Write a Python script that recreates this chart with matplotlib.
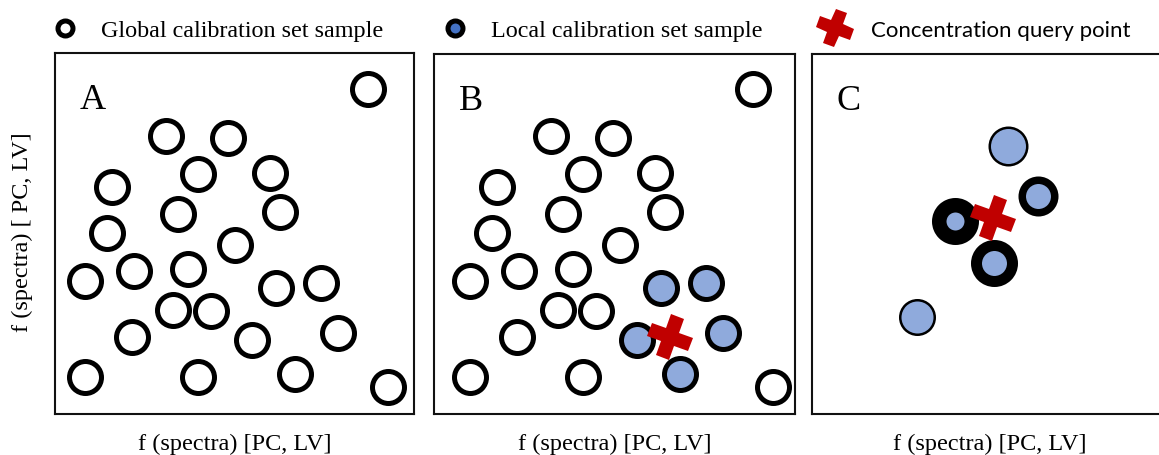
"""
Global vs local calibration set sketch (panels A, B, C) in a shared
score space f(spectra) [PC, LV].
"""
import matplotlib
matplotlib.use("Agg")
import matplotlib.pyplot as plt
from matplotlib.lines import Line2D
from matplotlib.markers import MarkerStyle
from matplotlib.transforms import Affine2D

# score coordinates of the global calibration set (panels A and B)
global_x = [313, 111, 173, 143, 215, 57, 123, 225, 52, 180, 30, 79,
            133, 221, 266, 118, 156, 77, 197, 283, 30, 143, 240, 333]
global_y = [325, 278, 276, 240, 241, 227, 200, 202, 181, 169, 133, 143,
            145, 126, 131, 104, 103, 77, 74, 81, 37, 37, 40, 27]
# indices of the samples picked as the local calibration set in B
local_idx = [13, 14, 18, 19, 22]
query_b = (230, 77)

# panel C: zoomed neighbourhood, ring width = sample weight
c_x = [196, 226, 143, 182, 105]
c_y = [268, 218, 193, 151, 97]
c_radius = [17.5, 12.5, 9, 12.5, 16]
c_weight = [2.5, 7.5, 14.5, 11, 2.5]
query_c = (181, 196)

labels = ["Global calibration set sample", "Local calibration set sample",
          "Concentration query point"]
panel_letters = ["A", "B", "C"]
axis_label = "f (spectra) [PC, LV]"
y_label = "f (spectra) [ PC, LV]"

SERIF = "Liberation Serif"
SANS = "Lato"
RED = "#C00000"
BLUE_LIGHT = "#8FAADC"
BLUE_DARK = "#4472C4"
PX = 0.72  # points per pixel at dpi 100

W, H = 1159, 455
fig = plt.figure(figsize=(W / 100, H / 100), dpi=100)


def px_axes(left, top, right, bottom):
    return fig.add_axes([left / W, (H - bottom) / H, (right - left) / W, (bottom - top) / H])


cross = MarkerStyle("P", transform=Affine2D().rotate_deg(-20))

ax_a = px_axes(55, 53, 414, 414)
ax_b = px_axes(434, 54, 795, 414)
ax_c = px_axes(812, 54, 1159, 414)
ax_a.set_xlim(0, 359)
ax_a.set_ylim(0, 361)
ax_b.set_xlim(-6, 355)
ax_b.set_ylim(0, 360)
ax_c.set_xlim(0, 347)
ax_c.set_ylim(0, 360)

ring = dict(marker="o", markersize=32 * PX, markeredgewidth=5 * PX,
            markeredgecolor="black", linestyle="none")

# A: all global samples
ax_a.plot(global_x, global_y, markerfacecolor="white", **ring)

# B: global samples with local set highlighted + query point
gx = [x for i, x in enumerate(global_x) if i not in local_idx]
gy = [y for i, y in enumerate(global_y) if i not in local_idx]
ax_b.plot(gx, gy, markerfacecolor="white", **ring)
ax_b.plot([global_x[i] for i in local_idx], [global_y[i] for i in local_idx],
          markerfacecolor=BLUE_LIGHT, **ring)
ax_b.plot([query_b[0]], [query_b[1]], marker=cross, markersize=43 * PX,
          color=RED, markeredgewidth=0, linestyle="none", zorder=5)

# C: weighted neighbours
for x, y, r, w in zip(c_x, c_y, c_radius, c_weight):
    ax_c.plot([x], [y], marker="o", markersize=(2 * r + w) * PX,
              markeredgewidth=w * PX, markerfacecolor=BLUE_LIGHT,
              markeredgecolor="black", linestyle="none")
ax_c.plot([query_c[0]], [query_c[1]], marker=cross, markersize=43 * PX,
          color=RED, markeredgewidth=0, linestyle="none", zorder=5)

for ax, letter in zip([ax_a, ax_b, ax_c], panel_letters):
    ax.set_xticks([])
    ax.set_yticks([])
    for sp in ax.spines.values():
        sp.set_linewidth(1.5)
        sp.set_color("#111111")
    ax.annotate(letter, xy=(0, 1), xycoords="axes fraction", xytext=(25, -56),
                textcoords="offset pixels", fontsize=26, family=SERIF,
                ha="left", va="baseline")
    ax.set_xlabel(axis_label, fontsize=17.5, family=SERIF)
    ax.xaxis.set_label_coords(0.5, -0.055)
ax_c.spines["right"].set_visible(False)
ax_c.xaxis.set_label_coords((990 - 812) / 347, -0.055)
fig.text(22 / W, (H - 232) / H, y_label, rotation=90, fontsize=17.5,
         family=SERIF, ha="center", va="center")

# legend row
handles = [
    Line2D([], [], marker="o", markersize=15 * PX, markeredgewidth=5 * PX,
           markerfacecolor="white", markeredgecolor="black", linestyle="none"),
    Line2D([], [], marker="o", markersize=15 * PX, markeredgewidth=5 * PX,
           markerfacecolor=BLUE_DARK, markeredgecolor="black", linestyle="none"),
    Line2D([], [], marker=cross, markersize=36 * PX, color=RED,
           markeredgewidth=0, linestyle="none"),
]
leg = fig.legend(handles, labels, ncol=3, loc="center left",
                 bbox_to_anchor=(50 / W, (H - 31) / H), frameon=False,
                 prop={"family": SERIF, "size": 17.4}, handlelength=1.24,
                 handletextpad=0.87, columnspacing=2.36, borderpad=0,
                 borderaxespad=0)
leg.get_texts()[2].set_fontfamily(SANS)
leg.get_texts()[2].set_fontsize(16)

fig.savefig("out.png", dpi=100)
